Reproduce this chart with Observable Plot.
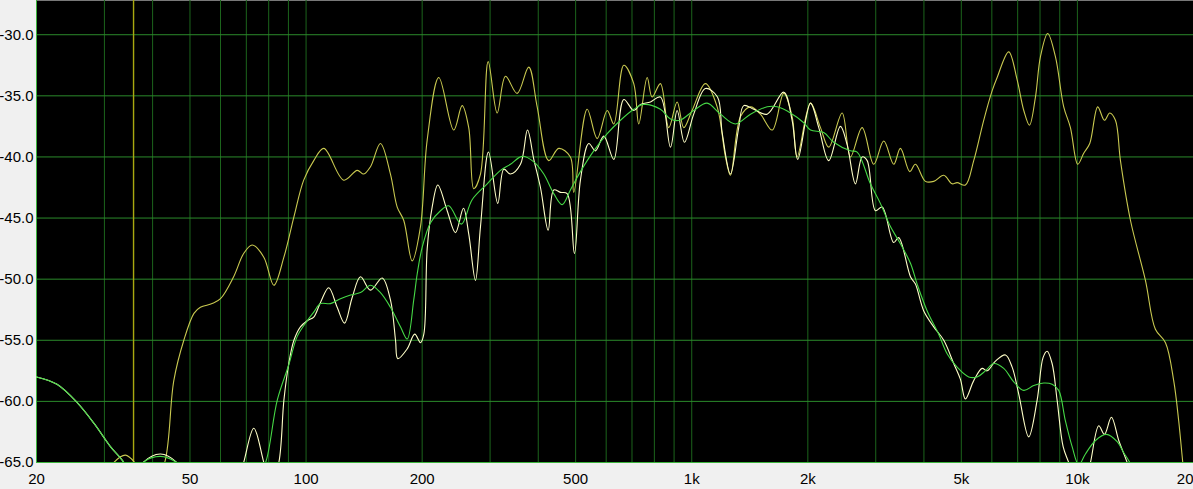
<!DOCTYPE html>
<html><head><meta charset="utf-8">
<script src="https://cdn.jsdelivr.net/npm/d3@7"></script>
<script src="https://cdn.jsdelivr.net/npm/@observablehq/plot@0.6"></script>
<style>html,body{margin:0;padding:0;background:#f0f0f0;overflow:hidden}</style>
</head><body><div id="chart"></div>
<script>
const xTicks = [20, 50, 100, 200, 500, 1000, 2000, 5000, 10000];
const xTickLabels = ["20", "50", "100", "200", "500", "1k", "2k", "5k", "10k"];
const xEndTick = [20000];
const xEndLabel = "20";
const xGrid = [20,30,40,50,60,70,80,90,100,200,300,400,500,600,700,800,900,1000,2000,3000,4000,5000,6000,7000,8000,9000,10000,20000];
const yTicks = [-65, -60, -55, -50, -45, -40, -35, -30];
const markerFreq = [35.7];

// [frequency Hz, level dB]
const yellowCurve = [[29,-67],[31.1,-65.3],[34.0,-64.4],[36.6,-65.3],[40,-67],[43.0,-65],[45.4,-58.3],[48.2,-55.0],[51.2,-52.8],[53.2,-52.3],[57.1,-52.0],[60.0,-51.6],[64.9,-49.8],[68.9,-47.9],[72.5,-47.2],[77.7,-48.2],[82.5,-50.5],[87.6,-48.2],[93.0,-44.9],[98.6,-41.9],[104.7,-40.3],[111.2,-39.3],[125.2,-41.9],[135.7,-41.1],[141.1,-41.4],[146.9,-40.8],[155.9,-38.9],[165.5,-41.4],[172.3,-44.1],[179.2,-45.2],[188.4,-48.5],[198.0,-45.7],[206.1,-38.6],[220.9,-33.5],[241.5,-37.8],[253.9,-35.8],[264.1,-37.6],[272.1,-42.6],[283.3,-41.4],[296.6,-32.2],[313.0,-36.4],[328.9,-33.4],[352.6,-34.8],[377.9,-32.65],[397.4,-35.9],[425.8,-40.3],[452.0,-39.3],[484.6,-40.0],[494.4,-42.9],[535.6,-36.1],[568.6,-38.5],[603.7,-36.2],[627.9,-37.3],[666.5,-32.5],[707.4,-34.0],[728.9,-37.3],[766.3,-33.5],[789.4,-35.1],[829.5,-34.0],[871.8,-37.6],[916.6,-35.5],[953.5,-37.6],[1002,-36.2],[1085,-34.0],[1164,-35.9],[1223,-40.0],[1260,-41.5],[1338,-36.7],[1420,-35.9],[1507,-36.5],[1617,-37.8],[1732,-34.8],[1821,-36.7],[1876,-40.0],[2032,-35.6],[2157,-37.6],[2266,-39.2],[2455,-36.4],[2579,-40.0],[2766,-37.6],[2964,-40.6],[3147,-38.7],[3340,-40.6],[3476,-39.3],[3675,-41.2],[3802,-40.6],[4036,-42.0],[4241,-42.0],[4503,-41.5],[4733,-42.2],[4877,-42.1],[5124,-42.3],[5385,-40.3],[5716,-37.0],[6009,-34.6],[6193,-33.5],[6636,-31.4],[6979,-33.7],[7260,-36.2],[7511,-37.4],[7784,-35.1],[8020,-31.8],[8375,-29.9],[8770,-31.8],[9216,-35.9],[9592,-37.6],[10020,-40.6],[10385,-39.7],[10765,-38.9],[11290,-35.9],[11750,-37.0],[12130,-36.4],[12550,-37.0],[12930,-40.3],[13730,-45.2],[15010,-50.1],[15930,-54.1],[16920,-55.2],[17770,-58.3],[18310,-61.6],[18760,-65],[19500,-70]];

const whiteCurve = [[20,-58.0],[22.6,-58.6],[25.5,-60.1],[28.2,-61.8],[31.1,-63.7],[33.7,-65],[35.7,-66.5],[37.8,-65],[41.9,-64.3],[46.2,-65],[50,-67],[60,-68],[66,-67],[68.9,-65],[73.2,-62.2],[77.7,-65],[81,-67],[85.0,-65],[87.6,-59.9],[90.2,-56.9],[93.0,-55.0],[96.7,-53.9],[100.7,-53.4],[104.7,-53.1],[109.0,-51.9],[114.5,-50.7],[120.4,-52.3],[125.8,-53.6],[131.7,-51.5],[138.4,-49.8],[146.9,-50.9],[157.5,-49.9],[165.5,-51.7],[170.6,-55.0],[172.9,-56.5],[182.9,-55.7],[191.3,-54.5],[198.0,-55.2],[202.0,-54.5],[206.1,-47.5],[212.3,-44.1],[219.6,-42.3],[232.2,-44.4],[244.0,-46.2],[255.9,-44.2],[264.1,-46.3],[274.9,-50.1],[283.3,-45.7],[297.2,-39.6],[314.1,-43.8],[325.6,-41.0],[338.8,-41.4],[359.7,-40.6],[375.1,-37.8],[389.5,-40.2],[405.3,-42.5],[424.4,-46.0],[438.7,-42.7],[456.5,-42.9],[475.3,-43.0],[496.4,-47.9],[514.5,-41.9],[540.8,-38.9],[562.8,-39.5],[591.4,-38.3],[627.9,-40.2],[666.5,-35.3],[707.4,-36.2],[736.3,-35.7],[781.6,-35.5],[829.5,-35.1],[880.8,-39.2],[916.6,-36.2],[957.4,-38.8],[1012,-36.5],[1085,-34.4],[1166,-35.1],[1199,-38.0],[1260,-41.4],[1324,-37.6],[1364,-35.8],[1448,-36.1],[1569,-36.5],[1732,-34.7],[1821,-37.0],[1883,-40.2],[2032,-35.6],[2135,-37.6],[2266,-40.3],[2429,-37.5],[2529,-39.0],[2657,-42.2],[2766,-40.0],[2850,-40.3],[2995,-44.4],[3117,-44.1],[3340,-47.0],[3441,-46.6],[3691,-49.8],[3802,-50.4],[3996,-52.6],[4241,-53.9],[4503,-55.0],[4778,-56.9],[4974,-58.2],[5124,-59.8],[5385,-58.3],[5661,-57.3],[5833,-57.5],[6131,-56.7],[6508,-56.2],[6773,-57.2],[7045,-59.4],[7477,-62.9],[7863,-59.9],[8149,-56.4],[8345,-55.9],[8598,-56.9],[8859,-59.9],[9183,-63.7],[9494,-65],[10000,-67],[10500,-66.5],[10810,-65],[11360,-62.0],[11750,-62.7],[12250,-61.3],[12800,-63.2],[13460,-65],[14500,-68]];

const greenCurve = [[20,-58.0],[22.6,-58.6],[25.5,-60.1],[28.2,-61.8],[31.1,-63.7],[33.7,-65],[35.7,-66.3],[37.8,-65],[41.9,-64.5],[46.2,-65],[52,-66.5],[64,-66],[72,-65.1],[76,-65.6],[78.5,-65],[84.2,-59.9],[90.2,-57.0],[94.8,-54.7],[100.7,-53.4],[104.7,-52.7],[109.0,-52.0],[115.7,-52.0],[122.8,-51.6],[130.4,-51.3],[138.4,-51.1],[146.9,-50.5],[155.9,-51.1],[165.5,-52.3],[175.7,-53.9],[182.9,-54.9],[190.2,-51.7],[194.1,-49.6],[200.0,-47.4],[210.1,-45.4],[223.1,-44.4],[234.4,-44.0],[252.6,-45.5],[269.5,-43.5],[294.9,-42.2],[319.2,-41.1],[338.8,-40.6],[363.4,-39.95],[389.5,-40.4],[413.4,-41.4],[438.7,-43.0],[461.3,-43.9],[484.6,-42.7],[514.5,-41.2],[557.1,-39.5],[603.7,-38.1],[653.5,-37.0],[707.4,-36.1],[750.9,-35.7],[829.5,-36.1],[880.8,-36.9],[930.4,-37.0],[1012,-36.2],[1096,-35.6],[1187,-36.5],[1298,-37.3],[1420,-36.5],[1569,-35.9],[1665,-35.9],[1803,-36.4],[1952,-37.2],[2032,-37.8],[2199,-38.0],[2334,-38.8],[2579,-39.5],[2685,-39.6],[2906,-42.2],[3084,-43.8],[3275,-45.7],[3476,-47.1],[3691,-48.7],[3841,-50.4],[4078,-52.6],[4369,-54.5],[4594,-56.1],[4877,-57.2],[5226,-58.0],[5495,-58.0],[5774,-57.5],[6068,-56.9],[6441,-57.3],[6838,-58.4],[7260,-59.1],[7706,-58.7],[8180,-58.5],[8598,-58.6],[8944,-59.1],[9309,-61.6],[9690,-63.7],[10080,-65.2],[10490,-64.3],[11140,-63.2],[11890,-62.7],[12680,-63.3],[13190,-64.2],[13670,-65],[14500,-67]];

const rows = (pairs) => pairs.map(([f, db]) => ({f, db}));

const chart = Plot.plot({
  width: 1193, height: 489,
  marginLeft: 36, marginRight: 0, marginTop: 0, marginBottom: 27,
  style: {background: "#f0f0f0", fontFamily: "'Liberation Sans', Arial, sans-serif", fontSize: "15px", color: "#000"},
  x: {type: "log", domain: [20, 20000], label: null},
  y: {domain: [-65, -27.2], label: null},
  marks: [
    Plot.frame({fill: "black", stroke: "none"}),
    Plot.ruleX(xGrid, {stroke: "#1c641c", strokeWidth: 1}),
    Plot.ruleY(yTicks, {stroke: "#2b8a2b", strokeWidth: 1}),
    Plot.ruleX([20], {stroke: "#3cb43c"}),
    Plot.ruleY([-65], {stroke: "#3cb43c"}),
    Plot.ruleX(markerFreq, {stroke: "#a8a810", strokeWidth: 1.4}),
    Plot.line(rows(yellowCurve), {x: "f", y: "db", stroke: "#c9c950", strokeWidth: 1.1, curve: "catmull-rom", clip: true}),
    Plot.line(rows(whiteCurve), {x: "f", y: "db", stroke: "#ffffc8", strokeWidth: 1.1, curve: "catmull-rom", clip: true}),
    Plot.line(rows(greenCurve), {x: "f", y: "db", stroke: "#46d846", strokeWidth: 1.1, curve: "catmull-rom", clip: true}),
    Plot.axisX(xTicks, {tickSize: 0, tickPadding: 11, label: null, tickFormat: d => xTickLabels[xTicks.indexOf(d)], fill: "#000", fontSize: 15}),
    Plot.axisX(xEndTick, {tickSize: 0, tickPadding: 11, label: null, textAnchor: "end", tickFormat: () => xEndLabel, fill: "#000", fontSize: 15}),
    Plot.axisY(yTicks, {tickSize: 0, tickPadding: 3, label: null, tickFormat: d => d.toFixed(1), fill: "#000", fontSize: 15})
  ]
});
document.getElementById("chart").appendChild(chart);
</script>
</body></html>
